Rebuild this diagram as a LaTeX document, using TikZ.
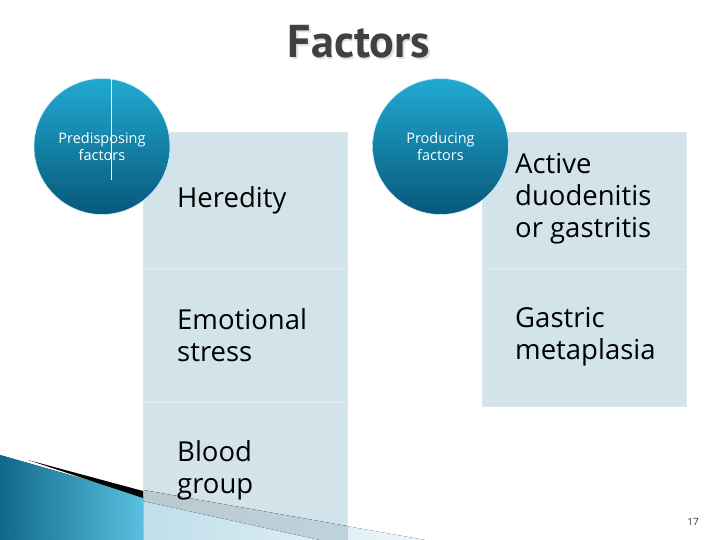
\documentclass[tikz,border=0pt]{standalone}
\usepackage{fontspec}
\setmainfont{Open Sans}
\newfontfamily\headfont{PT Sans}
\usetikzlibrary{positioning}
\definecolor{cellfill}{HTML}{D3E3EA}
\definecolor{celledge}{HTML}{DCE8EE}
\definecolor{discTop}{HTML}{22AAD2}
\definecolor{discBottom}{HTML}{06587A}
\definecolor{titlegray}{HTML}{404040}
\definecolor{wedgeDark}{HTML}{0D6788}
\definecolor{wedgeLight}{HTML}{58C0E0}
\definecolor{paleCyan}{HTML}{BEDEEA}
\definecolor{bandGray}{HTML}{BCC9CE}

\begin{document}
\begin{tikzpicture}[
    x=1pt, y=-1pt,
    cell/.style={rectangle, fill=cellfill, draw=celledge, line width=0.8pt, minimum width=204pt, inner sep=0pt},
    item/.style={anchor=west, align=left, inner sep=0pt, font=\fontsize{27.5}{32}\selectfont},
    disc/.style={circle, minimum size=136pt, inner sep=0pt, top color=discTop, bottom color=discBottom, draw=white!80!cyan, line width=0.6pt,
        text=white, align=center, font=\fontsize{14.5}{16.5}\selectfont}
]
\useasboundingbox (0,0) rectangle (720,540);
\fill[white] (0,0) rectangle (720,540);

% left column: predisposing factors
\node[cell, minimum height=136pt, anchor=north west] (p1) at (143,132) {};
\node[cell, minimum height=132pt, below=0pt of p1] (p2) {};
\node[cell, minimum height=140pt, below=0pt of p2] (p3) {};

% right column: producing factors
\node[cell, minimum height=136pt, anchor=north west] (q1) at (482,132) {};
\node[cell, minimum height=137pt, below=0pt of q1] (q2) {};

% bottom left swoosh
\fill[left color=paleCyan, right color=paleCyan!25] (143,490) -- (425,540) -- (143,540) -- cycle;
\fill[left color=bandGray, right color=bandGray!50!paleCyan] (143,490) -- (347,526) -- (347,540) -- (320,540) -- (143,501) -- cycle;
\fill[left color=wedgeDark, right color=wedgeLight] (0,455) -- (143,496) -- (143,540) -- (0,540) -- cycle;
\begin{scope}
    \clip (0,455) -- (143,496) -- (143,540) -- (0,540) -- cycle;
    \foreach \s in {-60,-56,...,200}
        \draw[white, opacity=0.09, line width=0.4pt] (\s,440) -- ++(40,110);
\end{scope}
\fill[black] (28,460) -- (143,491) -- (143,498) -- cycle;

% title
\node[text=black!12, font=\headfont\bfseries\fontsize{46}{46}\selectfont] (titleshadow) at (360.5,43.5) {Factors};
\node[text=titlegray, font=\headfont\bfseries\fontsize{46}{46}\selectfont] (title) at (359,42) {Factors};

% discs
\node[disc] (pd) at (102,146.5) {Predisposing\\factors};
\draw[white, line width=0.8pt] ([xshift=9pt]pd.north) -- ++(0,102);
\node[disc] (pr) at (440.5,146.5) {Producing\\factors};

% items
\node[item] (heredity) at ([xshift=34pt]p1.west) {Heredity};
\node[item] (stress) at ([xshift=34pt]p2.west) {Emotional\\stress};
\node[item] (blood) at ([xshift=34pt,yshift=2pt]p3.west) {Blood\\group};
\node[item] (duodenitis) at ([xshift=33pt,yshift=2pt]q1.west) {Active\\duodenitis\\or gastritis};
\node[item] (metaplasia) at ([xshift=33pt,yshift=1pt]q2.west) {Gastric\\metaplasia};

% slide number
\node[font=\fontsize{10}{12}\selectfont, text=black!80] (slideno) at (693,522) {17};
\end{tikzpicture}
\end{document}
